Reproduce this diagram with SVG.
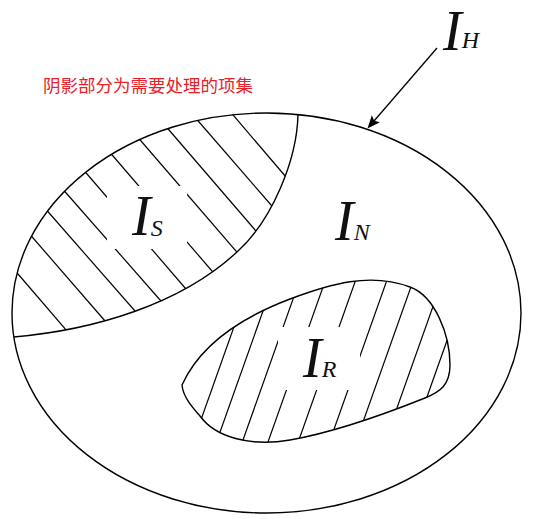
<svg xmlns="http://www.w3.org/2000/svg" width="534" height="519" viewBox="0 0 534 519">
  <style>
    .outline { fill: none; stroke: #000; stroke-width: 1.4; }
    .hatch { fill: none; stroke: #000; stroke-width: 1.2; }
    .lbl { font-family: "Liberation Serif", "Times New Roman", serif; font-style: italic; fill: #111; }
    .big { font-size: 56px; }
    .sub { font-size: 24px; }
    .caption { font-family: "Noto Sans CJK SC", "Noto Sans", sans-serif; font-size: 17.5px; fill: #e8212b; }
  </style>
  <defs>
    <clipPath id="clipS">
      <path clip-rule="evenodd" d="M13.8,337 C93,330 180,305 237,252 C272,220.5 297,160 298,114.5 A254.5,200 0 0 0 13.8,337 Z M107,186 H187 V249 H107 Z"/>
    </clipPath>
    <clipPath id="clipR">
      <path clip-rule="evenodd" d="M182,385 C200,345 240,318 290,299 C330,284 370,272 410,287 C435,296 450,335 450,365 C450,385 440,392 425,398 C385,414 330,433 290,440 C250,447 215,437 200,416 C191,406 183,396 182,385 Z M278,327 H360 V390 H278 Z"/>
    </clipPath>
    <marker id="arrow" viewBox="0 0 12 10" refX="7" refY="5" markerWidth="13" markerHeight="11" markerUnits="userSpaceOnUse" orient="auto">
      <path d="M0,0 L12,5 L0,10 L2.5,5 Z" fill="#000"/>
    </marker>
  </defs>
  <rect width="534" height="519" fill="#fff"/>

  <g id="set-IH">
    <ellipse class="outline" cx="266.5" cy="313" rx="254.5" ry="200"/>
    <text class="lbl" x="443" y="50"><tspan class="big">I</tspan><tspan class="sub" dy="-2">H</tspan></text>
  </g>

  <g id="set-IS">
    <g class="hatch" clip-path="url(#clipS)">
      <line x1="228" y1="109" x2="292" y2="184"/>
      <line x1="193" y1="115" x2="278" y2="213"/>
      <line x1="163" y1="123" x2="262" y2="238"/>
      <line x1="135" y1="134" x2="242" y2="258"/>
      <line x1="107" y1="149" x2="218" y2="278"/>
      <line x1="81" y1="167" x2="192" y2="296"/>
      <line x1="60" y1="186" x2="168" y2="309"/>
      <line x1="43" y1="206" x2="142" y2="319"/>
      <line x1="27" y1="231" x2="112" y2="329"/>
      <line x1="12" y1="267" x2="73" y2="338"/>
    </g>
    <path class="outline" d="M13.8,337 C93,330 180,305 237,252 C272,220.5 297,160 298,114.5"/>
    <text class="lbl" x="132" y="235"><tspan class="big">I</tspan><tspan class="sub" dy="1">S</tspan></text>
  </g>

  <g id="set-IN">
    <text class="lbl" x="335" y="240"><tspan class="big">I</tspan><tspan class="sub">N</tspan></text>
  </g>

  <g id="set-IR">
    <g class="hatch" clip-path="url(#clipR)">
      <line x1="186.7" y1="460" x2="257.7" y2="260"/>
      <line x1="210.1" y1="460" x2="281.1" y2="260"/>
      <line x1="235.9" y1="460" x2="306.9" y2="260"/>
      <line x1="261.6" y1="460" x2="332.6" y2="260"/>
      <line x1="291.8" y1="460" x2="362.8" y2="260"/>
      <line x1="323.1" y1="460" x2="394.1" y2="260"/>
      <line x1="349.5" y1="460" x2="420.5" y2="260"/>
      <line x1="378.5" y1="460" x2="449.5" y2="260"/>
      <line x1="404.6" y1="460" x2="475.6" y2="260"/>
    </g>
    <path class="outline" d="M182,385 C200,345 240,318 290,299 C330,284 370,272 410,287 C435,296 450,335 450,365 C450,385 440,392 425,398 C385,414 330,433 290,440 C250,447 215,437 200,416 C191,406 183,396 182,385 Z"/>
    <text class="lbl" x="303" y="377"><tspan class="big">I</tspan><tspan class="sub">R</tspan></text>
  </g>

  <g id="connectors">
    <line x1="437" y1="48" x2="371" y2="124.5" stroke="#000" stroke-width="1.3" marker-end="url(#arrow)"/>
  </g>

  <g id="caption">
    <text class="caption" x="43" y="92" textLength="210" lengthAdjust="spacingAndGlyphs">阴影部分为需要处理的项集</text>
  </g>
</svg>
